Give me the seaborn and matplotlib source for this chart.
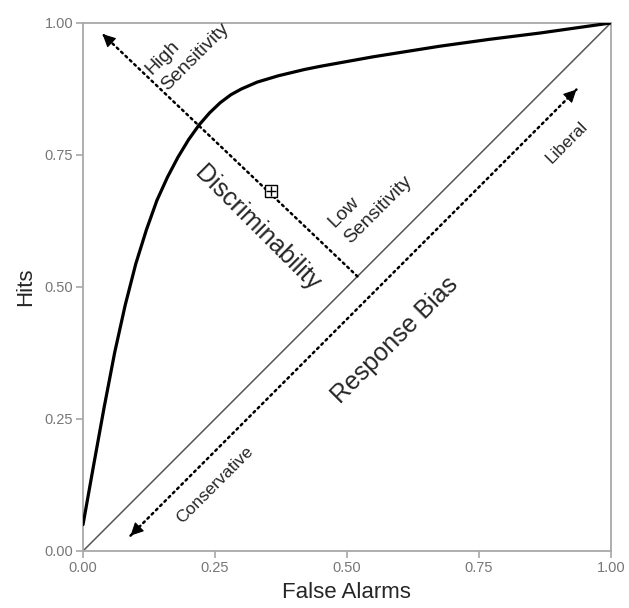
import numpy as np
import pandas as pd
import seaborn as sns
import matplotlib
matplotlib.use('Agg')
import matplotlib.pyplot as plt

# ROC curve
false_alarms = [0.0, 0.02, 0.04, 0.06, 0.08, 0.10, 0.12, 0.14, 0.16, 0.18, 0.20,
                0.22, 0.24, 0.26, 0.28, 0.30, 0.33, 0.37, 0.42, 0.45, 0.55, 0.676,
                0.77, 0.866, 1.0]
hits = [0.05, 0.162, 0.272, 0.376, 0.466, 0.544, 0.608, 0.664, 0.708, 0.746, 0.779,
        0.807, 0.830, 0.849, 0.864, 0.875, 0.888, 0.900, 0.912, 0.918, 0.936, 0.956,
        0.969, 0.981, 1.0]

chance = [0.0, 1.0]
ticks = [0.0, 0.25, 0.50, 0.75, 1.00]
tick_labels = ['0.00', '0.25', '0.50', '0.75', '1.00']

# dotted arrows (start, end)
sens_arrow = [(0.52, 0.52), (0.037, 0.979)]
bias_arrow = [(0.090, 0.029), (0.935, 0.874)]
criterion_point = (0.356, 0.682)

GRAY = '#a8a8a8'

sns.set_style('white')
plt.rcParams['font.family'] = ['Liberation Sans', 'DejaVu Sans']

fig = plt.figure(figsize=(6.29, 6.08), dpi=100)
ax = fig.add_axes([0.132, 0.0938, 0.839, 0.8684])

df = pd.DataFrame({'fa': false_alarms, 'hits': hits})
ax.plot(chance, chance, color='#555555', lw=1.1, zorder=2)
sns.lineplot(data=df, x='fa', y='hits', color='black', lw=2.3, ax=ax, zorder=3)


def dotted_arrow(p0, p1, both=False):
    ax.plot([p0[0], p1[0]], [p0[1], p1[1]], color='black', lw=1.8,
            linestyle=(0, (0.8, 1.6)), dash_capstyle='round', zorder=4)
    ends = [(p0, p1)] + ([(p1, p0)] if both else [])
    for a, b in ends:
        d = np.array(b) - np.array(a)
        d = d / np.hypot(*d)
        back = np.array(b) - d * 0.02
        ax.annotate('', xy=b, xytext=tuple(back),
                    arrowprops=dict(arrowstyle='-|>', mutation_scale=20,
                                    color='black', lw=0.8,
                                    shrinkA=0, shrinkB=0), zorder=5)


dotted_arrow(*sens_arrow)
dotted_arrow(*bias_arrow, both=True)

ax.plot(*criterion_point, marker='s', ms=8, mfc='white', mec='black', mew=1.0, zorder=6)
ax.plot(*criterion_point, marker='+', ms=7, color='black', mew=1.0, zorder=7)

ax.text(0.198, 0.951, 'High\nSensitivity', rotation=45, ha='center', va='center',
        rotation_mode='anchor', multialignment='left', fontsize=14, linespacing=1.45)
ax.text(0.545, 0.662, 'Low\nSensitivity', rotation=45, ha='center', va='center',
        rotation_mode='anchor', multialignment='left', fontsize=14, linespacing=1.45)
ax.text(0.331, 0.612, 'Discriminability', rotation=-45, ha='center', va='center',
        fontsize=18)
ax.text(0.591, 0.400, 'Response Bias', rotation=45, ha='center', va='center',
        fontsize=18)
ax.text(0.917, 0.773, 'Liberal', rotation=45, ha='center', va='center', fontsize=12.5)
ax.text(0.250, 0.125, 'Conservative', rotation=45, ha='center', va='center', fontsize=12.5)

ax.set_xlim(0, 1)
ax.set_ylim(0, 1)
ax.set_xticks(ticks)
ax.set_xticklabels(tick_labels)
ax.set_yticks(ticks)
ax.set_yticklabels(tick_labels)
ax.tick_params(axis='both', colors=GRAY, labelcolor='#777777', labelsize=10.5,
               length=5, width=1.2, direction='out', pad=2, bottom=True, left=True)
for s in ax.spines.values():
    s.set_color(GRAY)
    s.set_linewidth(1.3)
ax.set_xlabel('False Alarms', fontsize=16, labelpad=5)
ax.set_ylabel('Hits', fontsize=16, labelpad=6)

fig.savefig('out.png', dpi=100)
